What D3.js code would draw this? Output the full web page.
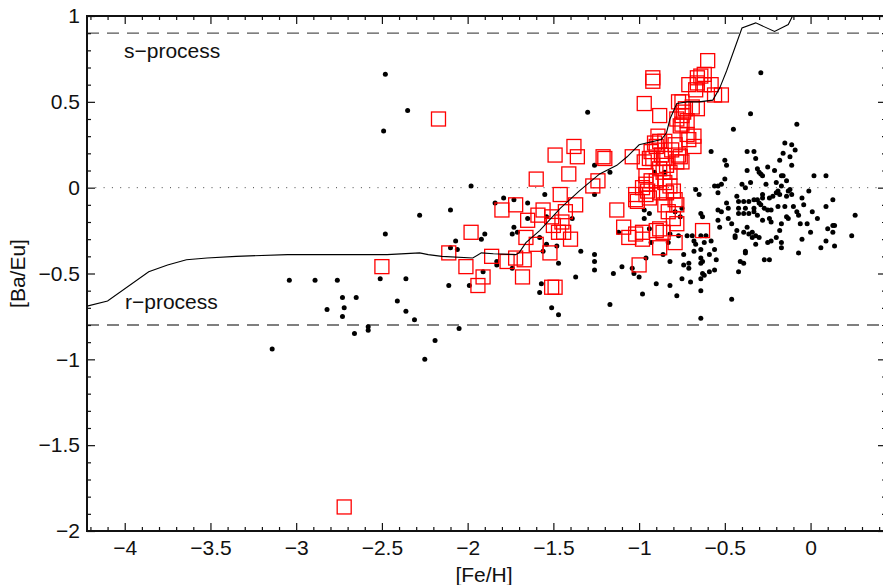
<!DOCTYPE html>
<html>
<head>
<meta charset="utf-8">
<script src="https://cdn.jsdelivr.net/npm/d3@7"></script>
<style>
  body { margin: 0; background: #fff; }
  text { font-family: "Liberation Sans", Arial, Helvetica, sans-serif; }
</style>
</head>
<body>
<svg id="chart" width="883" height="585"></svg>
<script>
// tick labels
const xTicks = [-4, -3.5, -3, -2.5, -2, -1.5, -1, -0.5, 0];
const yTicks = [1, 0.5, 0, -0.5, -1, -1.5, -2];

// reference levels
const sProcessLevel = 0.9;
const rProcessLevel = -0.8;

// [Fe/H], [Ba/Eu] of the field stars (black dots)
const fieldStars = [
  [-3.14,-0.94],[-3.04,-0.54],[-2.89,-0.54],[-2.82,-0.71],[-2.76,-0.54],[-2.73,-0.64],[-2.72,-0.70],[-2.73,-0.75],
  [-2.66,-0.85],[-2.65,-0.64],[-2.58,-0.81],[-2.58,-0.83],[-2.51,-0.53],[-2.48,-0.27],[-2.48,0.66],[-2.35,0.45],
  [-2.49,0.33],[-2.41,-0.66],[-2.36,-0.53],[-2.36,-0.72],[-2.31,-0.77],[-2.28,-0.16],[-2.25,-1.00],[-2.19,-0.89],
  [-2.11,-0.57],[-2.10,-0.13],[-2.10,-0.35],[-2.07,-0.31],[-2.06,-0.36],[-2.05,-0.82],[-1.99,-0.57],[-1.98,0.01],
  [-1.92,-0.30],[-1.91,-0.49],[-1.90,-0.27],[-1.84,-0.09],[-1.83,-0.43],[-1.83,-0.45],[-1.79,-0.06],[-1.74,-0.27],
  [-1.74,-0.47],[-1.73,-0.07],[-1.73,-0.23],[-1.71,-0.26],[-1.65,-0.09],[-1.65,-0.18],[-1.58,-0.29],[-1.58,-0.61],
  [-1.57,-0.56],[-1.56,-0.37],[-1.55,-0.04],[-1.54,-0.33],[-1.54,-0.17],[-1.51,-0.70],[-1.48,-0.34],[-1.47,-0.44],
  [-1.47,-0.74],[-1.37,-0.52],[-1.39,-0.18],[-1.34,-0.37],[-1.30,0.44],[-1.26,0.13],[-1.26,-0.04],[-1.26,-0.39],
  [-1.26,-0.43],[-1.26,-0.48],[-1.17,0.09],[-1.17,-0.68],[-1.15,-0.50],[-1.12,-0.26],[-1.10,-0.46],[-1.04,-0.47],
  [-1.03,-0.50],[-1.00,-0.52],[-0.98,-0.62],[-0.97,-0.13],[-0.97,-0.18],[-0.96,-0.41],[-0.94,-0.15],[-0.94,-0.24],
  [-0.93,-0.32],[-0.91,0.09],[-0.90,-0.56],[-0.86,-0.39],[-0.83,-0.32],[-0.82,-0.27],[-0.82,-0.43],[-0.82,-0.57],
  [-0.79,-0.14],[-0.78,-0.63],[-0.77,-0.28],[-0.76,-0.17],[-0.75,-0.12],[-0.74,-0.39],[-0.74,-0.45],[-0.75,-0.53],
  [-0.72,-0.28],[-0.71,-0.44],[-0.71,-0.47],[-0.70,-0.55],[-0.69,-0.28],[-0.68,-0.31],[-0.68,-0.37],[-0.67,-0.01],
  [-0.67,-0.33],[-0.65,-0.04],[-0.64,-0.15],[-0.64,-0.28],[-0.64,-0.36],[-0.64,-0.41],[-0.64,-0.44],[-0.64,-0.53],
  [-0.64,-0.60],[-0.64,-0.76],[-0.63,-0.17],[-0.63,-0.43],[-0.63,-0.50],[-0.62,-0.32],[-0.62,-0.51],[-0.61,-0.28],
  [-0.59,-0.39],[-0.59,-0.49],[-0.58,0.21],[-0.58,-0.31],[-0.56,-0.36],[-0.56,-0.48],[-0.55,-0.42],[-0.56,0.01],
  [-0.54,0.01],[-0.54,-0.03],[-0.52,0.02],[-0.54,-0.13],[-0.52,-0.14],[-0.54,-0.19],[-0.53,-0.23],[-0.50,0.16],
  [-0.49,0.13],[-0.50,0.05],[-0.49,-0.09],[-0.48,-0.12],[-0.48,-0.18],[-0.46,-0.21],[-0.46,-0.65],[-0.45,0.34],
  [-0.43,-0.05],[-0.41,-0.43],[-0.42,-0.49],[-0.42,-0.08],[-0.42,-0.12],[-0.42,-0.15],[-0.44,-0.28],[-0.44,-0.29],
  [-0.43,-0.25],[-0.40,0.02],[-0.39,-0.08],[-0.39,-0.15],[-0.39,-0.26],[-0.39,-0.44],[-0.38,0.00],[-0.38,-0.37],
  [-0.38,-0.38],[-0.38,-0.12],[-0.37,0.21],[-0.37,0.10],[-0.37,-0.23],[-0.36,-0.08],[-0.36,-0.15],[-0.36,-0.27],
  [-0.35,0.43],[-0.35,0.03],[-0.34,-0.26],[-0.34,-0.29],[-0.33,0.21],[-0.33,-0.07],[-0.33,-0.12],[-0.33,-0.14],
  [-0.32,0.17],[-0.32,-0.28],[-0.32,-0.33],[-0.31,0.11],[-0.31,-0.07],[-0.31,-0.16],[-0.30,0.09],[-0.30,-0.09],
  [-0.30,-0.29],[-0.29,0.67],[-0.29,0.08],[-0.29,-0.10],[-0.28,0.07],[-0.28,-0.04],[-0.28,-0.06],[-0.28,-0.19],
  [-0.27,-0.12],[-0.27,-0.42],[-0.26,0.02],[-0.25,0.12],[-0.25,-0.13],[-0.25,-0.32],[-0.24,-0.06],[-0.24,-0.18],
  [-0.24,-0.42],[-0.23,-0.13],[-0.23,-0.20],[-0.23,-0.31],[-0.22,-0.05],[-0.21,0.10],[-0.20,0.03],[-0.20,-0.03],
  [-0.20,-0.29],[-0.19,-0.02],[-0.19,-0.11],[-0.18,0.16],[-0.18,-0.04],[-0.18,-0.25],[-0.17,0.07],[-0.17,0.01],
  [-0.17,-0.21],[-0.17,-0.32],[-0.17,-0.35],[-0.16,0.20],[-0.16,0.07],[-0.15,0.26],[-0.15,-0.11],[-0.14,0.04],
  [-0.14,-0.05],[-0.14,-0.17],[-0.13,-0.02],[-0.13,-0.18],[-0.12,0.18],[-0.12,-0.01],[-0.11,0.25],[-0.11,0.13],
  [-0.11,-0.04],[-0.10,-0.11],[-0.09,0.22],[-0.08,0.37],[-0.08,-0.14],[-0.07,-0.16],[-0.07,-0.38],[-0.06,-0.21],
  [-0.05,-0.06],[-0.05,-0.30],[-0.04,-0.10],[-0.02,-0.21],[-0.01,-0.02],[0.00,-0.26],[0.01,-0.14],[0.02,0.07],
  [0.04,-0.18],[0.06,-0.35],[0.09,0.07],[0.09,-0.11],[0.09,-0.31],[0.10,-0.24],[0.13,-0.07],[0.13,-0.22],
  [0.13,-0.26],[0.14,-0.22],[0.14,-0.34],[0.24,-0.28],[0.26,-0.16],[-0.85,0.09]
];

// [Fe/H], [Ba/Eu] of the red-square sample
const squareStars = [
  [-2.72,-1.86],[-2.50,-0.46],[-2.17,0.40],[-2.11,-0.38],[-2.01,-0.46],[-1.98,-0.26],[-1.94,-0.57],[-1.91,-0.52],
  [-1.86,-0.40],[-1.80,-0.13],[-1.77,-0.43],[-1.72,-0.10],[-1.72,-0.41],[-1.68,-0.52],[-1.67,-0.42],[-1.66,-0.29],
  [-1.65,-0.19],[-1.60,0.05],[-1.60,-0.33],[-1.59,-0.16],[-1.56,-0.13],[-1.52,-0.38],[-1.51,-0.17],[-1.51,-0.58],
  [-1.49,-0.58],[-1.50,-0.22],[-1.49,0.19],[-1.47,-0.26],[-1.46,-0.04],[-1.45,-0.20],[-1.44,-0.26],[-1.43,-0.14],
  [-1.41,0.08],[-1.40,-0.30],[-1.38,0.24],[-1.37,-0.10],[-1.36,0.18],[-1.27,0.01],[-1.24,0.04],[-1.21,0.18],
  [-1.20,0.17],[-1.13,-0.13],[-1.09,-0.23],[-1.06,-0.29],[-1.04,0.18],[-1.02,-0.27],[-1.02,-0.07],[-1.01,-0.08],
  [-1.02,-0.04],[-1.00,-0.45],[-0.98,0.00],[-0.98,-0.26],[-0.98,-0.30],[-0.97,0.49],[-0.97,0.15],[-0.96,-0.04],
  [-0.96,0.07],[-0.96,0.02],[-0.95,-0.02],[-0.94,0.17],[-0.94,-0.06],[-0.93,0.21],[-0.92,0.17],[-0.93,0.04],
  [-0.92,0.64],[-0.92,0.62],[-0.91,0.26],[-0.90,0.04],[-0.90,0.24],[-0.90,-0.25],[-0.89,0.30],[-0.88,0.42],
  [-0.88,0.27],[-0.88,0.11],[-0.88,-0.03],[-0.88,-0.24],[-0.88,-0.35],[-0.87,0.19],[-0.86,-0.26],[-0.86,0.09],
  [-0.85,0.27],[-0.85,0.17],[-0.85,0.03],[-0.84,0.13],[-0.85,-0.10],[-0.84,-0.03],[-0.83,-0.14],[-0.82,0.09],
  [-0.82,0.01],[-0.81,0.22],[-0.80,-0.02],[-0.80,-0.18],[-0.79,0.25],[-0.79,-0.07],[-0.79,-0.32],[-0.78,0.40],
  [-0.78,0.15],[-0.78,-0.10],[-0.78,-0.21],[-0.77,0.50],[-0.77,0.19],[-0.76,0.36],[-0.76,0.18],[-0.75,0.42],
  [-0.75,0.15],[-0.75,0.50],[-0.75,0.37],[-0.74,0.44],[-0.73,0.46],[-0.72,0.39],[-0.72,0.31],[-0.71,0.60],
  [-0.71,0.28],[-0.69,0.47],[-0.68,0.30],[-0.68,0.24],[-0.66,0.64],[-0.66,0.61],[-0.67,0.57],[-0.66,0.46],
  [-0.64,0.65],[-0.63,-0.25],[-0.62,0.66],[-0.62,0.60],[-0.60,0.74],[-0.58,0.60],[-0.56,0.54],[-0.52,0.54]
];

// model track
const modelTrack = [
  [-4.22,-0.69],[-4.10,-0.66],[-3.86,-0.49],[-3.75,-0.45],[-3.64,-0.42],[-3.52,-0.41],[-3.35,-0.40],[-3.05,-0.39],
  [-2.47,-0.39],[-2.28,-0.38],[-2.23,-0.39],[-2.15,-0.40],[-1.97,-0.41],[-1.92,-0.38],[-1.85,-0.385],[-1.72,-0.39],
  [-1.70,-0.38],[-1.66,-0.32],[-1.58,-0.25],[-1.46,-0.12],[-1.35,-0.02],[-1.23,0.08],[-1.13,0.13],[-1.07,0.18],
  [-1.00,0.25],[-0.87,0.28],[-0.84,0.32],[-0.82,0.40],[-0.78,0.49],[-0.72,0.50],[-0.65,0.50],[-0.57,0.51],
  [-0.53,0.58],[-0.49,0.68],[-0.40,0.93],[-0.32,0.96],[-0.21,0.91],[-0.13,0.95],[-0.09,1.03]
];

const svg = d3.select("#chart");
const plotLeft = 87, plotRight = 886, plotTop = 16, plotBottom = 531;

const x = d3.scaleLinear().domain([-4.22, 0.44]).range([plotLeft, plotRight]);
const y = d3.scaleLinear().domain([-2, 1]).range([plotBottom, plotTop]);
const fmt = d3.format("~g");

const xMinor = d3.range(-42, 5).map(d => d / 10).filter(d => Math.round(d * 10) % 5 !== 0);
const yMinor = d3.range(-20, 11).map(d => d / 10).filter(d => Math.round(d * 10) % 5 !== 0);

svg.append("defs").append("clipPath").attr("id", "plot")
  .append("rect").attr("x", plotLeft).attr("y", plotTop)
  .attr("width", plotRight - plotLeft).attr("height", plotBottom - plotTop);

// reference levels
const refs = svg.append("g");
[sProcessLevel, rProcessLevel].forEach(v => {
  refs.append("line")
    .attr("x1", plotLeft).attr("x2", plotRight).attr("y1", y(v)).attr("y2", y(v))
    .attr("stroke", "#555").attr("stroke-width", 1.4).attr("stroke-dasharray", "12,8");
});
refs.append("line")
  .attr("x1", plotLeft).attr("x2", plotRight).attr("y1", y(0)).attr("y2", y(0))
  .attr("stroke", "#444").attr("stroke-width", 1).attr("stroke-dasharray", "1,7.3");

const plot = svg.append("g").attr("clip-path", "url(#plot)");

plot.selectAll("circle")
  .data(fieldStars)
  .enter()
  .append("circle")
  .attr("cx", d => x(d[0]))
  .attr("cy", d => y(d[1]))
  .attr("r", 2.5)
  .attr("fill", "#000");

const sq = 14;
plot.selectAll("rect.sq")
  .data(squareStars)
  .enter()
  .append("rect")
  .attr("class", "sq")
  .attr("x", d => x(d[0]) - sq / 2)
  .attr("y", d => y(d[1]) - sq / 2)
  .attr("width", sq)
  .attr("height", sq)
  .attr("fill", "none")
  .attr("stroke", "#ff0000")
  .attr("stroke-width", 1.3);

const lineGenerator = d3.line()
  .x(d => x(d[0]))
  .y(d => y(d[1]));

plot.append("path")
  .datum(modelTrack)
  .attr("fill", "none")
  .attr("stroke", "#000")
  .attr("stroke-width", 1.1)
  .attr("d", lineGenerator);

// axes, ticks pointing inward on all four sides
const axes = svg.append("g");
axes.append("g").attr("transform", `translate(0,${plotBottom})`)
  .call(d3.axisBottom(x).tickValues(xTicks).tickSizeInner(-8).tickSizeOuter(0).tickPadding(9).tickFormat(fmt));
axes.append("g").attr("transform", `translate(0,${plotBottom})`)
  .call(d3.axisBottom(x).tickValues(xMinor).tickSizeInner(-4).tickSizeOuter(0).tickFormat(""));
axes.append("g").attr("transform", `translate(0,${plotTop})`)
  .call(d3.axisTop(x).tickValues(xTicks).tickSizeInner(-8).tickSizeOuter(0).tickFormat(""));
axes.append("g").attr("transform", `translate(0,${plotTop})`)
  .call(d3.axisTop(x).tickValues(xMinor).tickSizeInner(-4).tickSizeOuter(0).tickFormat(""));
axes.append("g").attr("transform", `translate(${plotLeft},0)`)
  .call(d3.axisLeft(y).tickValues(yTicks).tickSizeInner(-8).tickSizeOuter(0).tickPadding(7).tickFormat(fmt));
axes.append("g").attr("transform", `translate(${plotLeft},0)`)
  .call(d3.axisLeft(y).tickValues(yMinor).tickSizeInner(-4).tickSizeOuter(0).tickFormat(""));
axes.append("g").attr("transform", `translate(${plotRight},0)`)
  .call(d3.axisRight(y).tickValues(yTicks).tickSizeInner(-8).tickSizeOuter(0).tickFormat(""));
axes.append("g").attr("transform", `translate(${plotRight},0)`)
  .call(d3.axisRight(y).tickValues(yMinor).tickSizeInner(-4).tickSizeOuter(0).tickFormat(""));

axes.selectAll(".domain").remove();
axes.selectAll(".tick line").attr("stroke", "#111").attr("stroke-width", 1.2);
axes.selectAll(".tick text")
  .attr("font-size", "21px")
  .attr("fill", "#111")
  .attr("font-family", "'Liberation Sans', Arial, Helvetica, sans-serif");

svg.append("rect")
  .attr("x", plotLeft).attr("y", plotTop)
  .attr("width", plotRight - plotLeft).attr("height", plotBottom - plotTop)
  .attr("fill", "none").attr("stroke", "#111").attr("stroke-width", 2);

// labels
svg.append("text").attr("x", 124).attr("y", 58).attr("font-size", "21px").attr("fill", "#111").text("s\u2212process");
svg.append("text").attr("x", 125).attr("y", 309).attr("font-size", "21px").attr("fill", "#111").text("r\u2212process");

svg.append("text")
  .attr("x", 484).attr("y", 582)
  .attr("text-anchor", "middle").attr("font-size", "21px").attr("fill", "#111")
  .text("[Fe/H]");
svg.append("text")
  .attr("transform", `translate(25,${(plotTop + plotBottom) / 2}) rotate(-90)`)
  .attr("text-anchor", "middle").attr("font-size", "21px").attr("fill", "#111")
  .text("[Ba/Eu]");
</script>
</body>
</html>
